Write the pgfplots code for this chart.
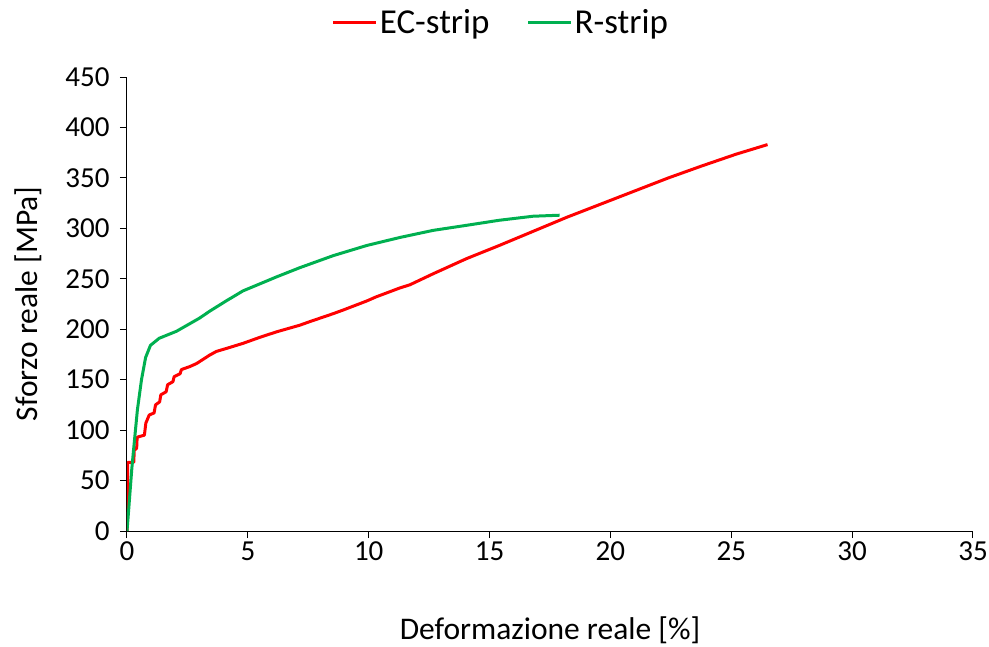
\documentclass[border=0pt]{standalone}
\usepackage{fontspec}
\setmainfont{Carlito}
\usepackage{pgfplots}
\pgfplotsset{compat=1.18}
\definecolor{ecred}{RGB}{255,0,0}
\definecolor{rgreen}{RGB}{0,176,80}

\pgfplotstableread{
x y
0 0
0.03 68
0.28 68
0.30 80
0.40 82
0.42 93
0.72 95
0.78 107
0.92 115
1.12 117
1.18 125
1.35 128
1.40 135
1.62 138
1.68 145
1.90 148
1.95 153
2.20 156
2.25 160
2.6 163
2.88 166
3.43 174.5
3.7 178
4.12 181
4.8 186
5.5 192
6.2 197.5
7.15 204
7.56 207.5
8.54 215.5
8.94 219
9.92 228
10.3 232
11.3 241
11.7 244
12.67 255
14.05 270
15.4 283
16.8 297
18.2 311
19.6 324
21.0 337
22.4 350
23.8 362
25.2 373.5
26.5 383
}\ecstrip

\pgfplotstableread{
x y
0 0
0.05 15
0.12 37
0.2 62
0.27 80
0.43 120
0.6 150
0.77 172
0.97 184
1.33 191
2.05 198
3.0 211
3.43 218
4.1 228
4.8 238
6.2 252
7.15 261
8.54 273
9.92 283
11.3 291
12.67 298
14.05 303
15.4 308
16.8 312
17.9 313
}\rstrip

\begin{document}
\begin{tikzpicture}
\begin{axis}[
  scale only axis, width=846pt, height=454pt,
  xmin=0, xmax=35, ymin=0, ymax=450,
  xtick={0,5,...,35}, ytick={0,50,...,450},
  axis lines*=left,
  axis line style={black, line width=1pt},
  tick style={black, line width=1pt},
  tick align=outside, major tick length=7pt,
  /pgf/number format/assume math mode=true,
  ticklabel style={font=\fontsize{29}{32}\selectfont},
  yticklabel style={xshift=-7pt},
  xlabel={Deformazione reale [\%]},
  ylabel={Sforzo reale [MPa]},
  every axis x label/.style={at={(axis description cs:0.5,-0.218)}, anchor=center,
    font=\fontsize{31.5}{34}\selectfont},
  every axis y label/.style={at={(axis description cs:-0.117,0.5)}, anchor=center, rotate=90,
    font=\fontsize{31.5}{34}\selectfont},
  legend columns=2,
  legend style={at={(axis description cs:0.442,1.121)}, anchor=center, draw=none,
    font=\fontsize{35}{38}\selectfont,
    /tikz/every even column/.append style={column sep=35pt}},
  legend image code/.code={\draw[#1] (0pt,0pt) -- (43pt,0pt);},
]
\addplot[ecred, line width=3pt, line join=round] table[x=x, y=y] {\ecstrip};
\addlegendentry{EC-strip}
\addplot[rgreen, line width=3pt, line join=round] table[x=x, y=y] {\rstrip};
\addlegendentry{R-strip}
\end{axis}
\pgfresetboundingbox
\path (current axis.south west) ++(-127pt,-115pt) rectangle ++(989pt,646pt);
\end{tikzpicture}
\end{document}
